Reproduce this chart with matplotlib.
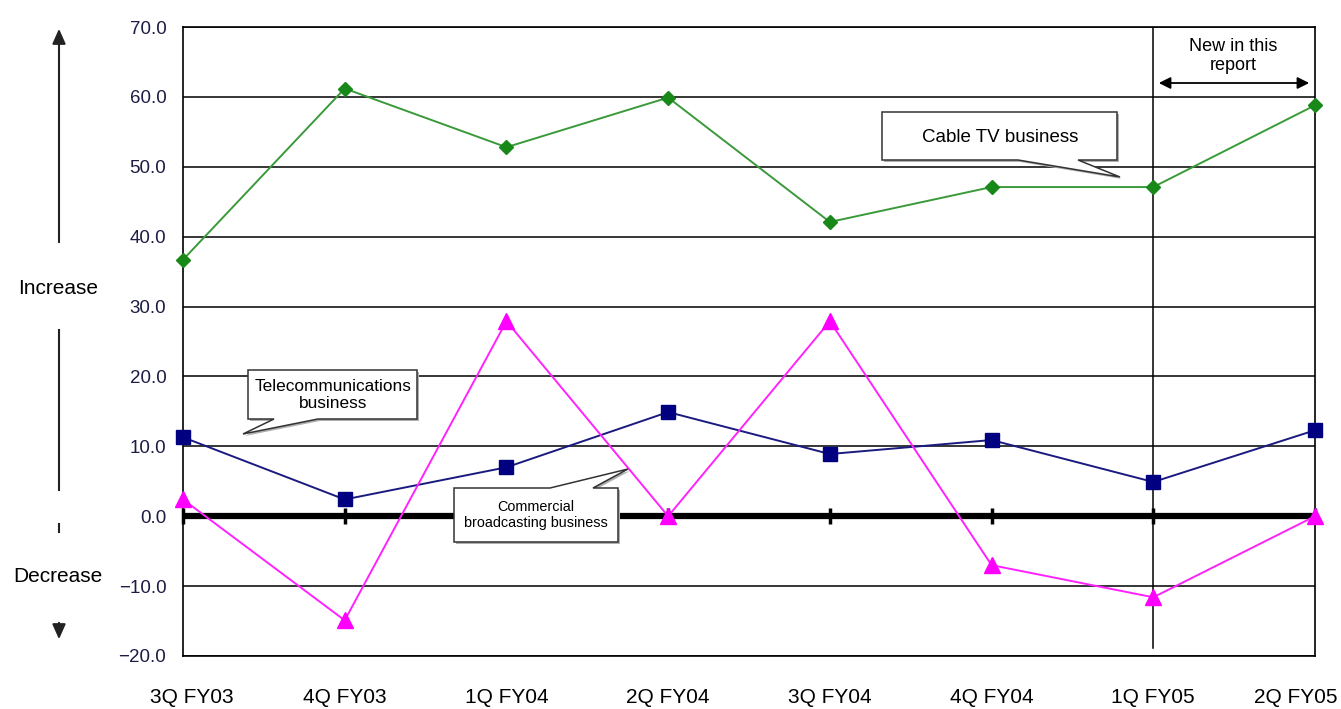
import numpy as np
import matplotlib.pyplot as plt
from matplotlib.patches import Polygon, FancyArrowPatch
from matplotlib.transforms import ScaledTranslation

plt.rcParams['font.family'] = ['Liberation Sans', 'DejaVu Sans']

# data
quarters = ["3Q FY03", "4Q FY03", "1Q FY04", "2Q FY04", "3Q FY04", "4Q FY04", "1Q FY05", "2Q FY05"]
cable_tv = [36.7, 61.2, 52.8, 59.9, 42.1, 47.1, 47.1, 58.8]
telecom = [11.3, 2.4, 7.0, 14.9, 8.9, 10.9, 4.9, 12.3]
broadcasting = [2.4, -14.9, 27.9, 0.0, 27.9, -7.0, -11.6, 0.0]
y_ticks = [-20, -10, 0, 10, 20, 30, 40, 50, 60, 70]

W, H = 1341, 709
fig = plt.figure(figsize=(W / 100, H / 100), dpi=100)
ax = fig.add_axes([183 / W, 1 - 656 / H, (1315 - 183) / W, (656 - 27) / H])

x = np.arange(len(quarters))

ax.set_xlim(0, len(quarters) - 1)
ax.set_ylim(-20, 70)
ax.set_yticks(y_ticks)
ax.set_yticklabels(["%.1f" % v if v >= 0 else "\u2212%.1f" % abs(v) for v in y_ticks],
                   color="#1c1c44", fontsize=13.5)
ax.set_xticks(x)
ax.set_xticklabels(quarters, fontsize=15)
ax.tick_params(axis="y", length=0, pad=12)
ax.tick_params(axis="x", length=0, pad=23)
# first and last labels nudged inward like the original
labels = ax.get_xticklabels()
labels[0].set_transform(labels[0].get_transform() + ScaledTranslation(0.09, 0, fig.dpi_scale_trans))
labels[-1].set_horizontalalignment("right")
labels[-1].set_transform(labels[-1].get_transform() + ScaledTranslation(0.23, 0, fig.dpi_scale_trans))

ax.grid(axis="y", color="black", lw=1.1)
ax.set_axisbelow(True)
for s in ax.spines.values():
    s.set_linewidth(1.2)

# thick zero line with category ticks
ax.axhline(0, color="black", lw=4.5, zorder=2)
ax.plot(x, np.zeros(len(x)), ls="none", marker="|", ms=12, mew=2.5, color="black", zorder=2, clip_on=False)

# separator for new quarter
ax.axvline(6, ymin=0.013, ymax=1, color="black", lw=1.1, zorder=2)

ax.plot(x, cable_tv, color="#3a9a3a", lw=1.4, marker="D", ms=7.5, mfc="#188818", mec="#188818",
        zorder=4, clip_on=False)
ax.plot(x, telecom, color="#1a1a80", lw=1.4, marker="s", ms=10, mfc="#000080", mec="#000080",
        zorder=4, clip_on=False)
ax.plot(x, broadcasting, color="#ff22ff", lw=1.4, marker="^", ms=11, mfc="#ff00ff", mec="#ff00ff",
        zorder=5, clip_on=False)


def fp(px, py):
    return (px / W, 1 - py / H)


def bubble(pts, text, cx, cy, size):
    shadow = Polygon([fp(px + 2, py + 2) for px, py in pts], closed=True, transform=fig.transFigure,
                     facecolor="#b0b0b0", edgecolor="none", zorder=6)
    body = Polygon([fp(px, py) for px, py in pts], closed=True, transform=fig.transFigure,
                   facecolor="white", edgecolor="#333333", lw=1.1, zorder=7)
    fig.add_artist(shadow)
    fig.add_artist(body)
    fig.text(*fp(cx, cy), text, ha="center", va="center", fontsize=size, zorder=8, linespacing=1.15)


bubble([(882, 112), (1117, 112), (1117, 160), (1078, 160), (1120, 177), (1018, 160), (882, 160)],
       "Cable TV business", 1000, 138, 13.5)
bubble([(248, 370), (417, 370), (417, 419), (318, 419), (243, 434), (274, 419), (248, 419)],
       "Telecommunications\nbusiness", 333, 395, 12.4)
bubble([(454, 488), (550, 488), (628, 469), (593, 488), (618, 488), (618, 542), (454, 542)],
       "Commercial\nbroadcasting business", 536, 515, 10.4)

# "New in this report"
fig.text(*fp(1233, 56), "New in this\nreport", ha="center", va="center", fontsize=13, linespacing=1.15)
fig.add_artist(FancyArrowPatch(fp(1156, 83), fp(1312, 83), transform=fig.transFigure,
                               arrowstyle="<|-|>,head_length=7,head_width=3.5", color="black", lw=1.3))

# increase / decrease guide on the left
fig.add_artist(FancyArrowPatch(fp(59, 245), fp(59, 26), transform=fig.transFigure,
                               arrowstyle="-|>,head_length=9,head_width=4", color="#222222", lw=1.5))
fig.add_artist(plt.Line2D([59 / W, 59 / W], [1 - 330 / H, 1 - 490 / H], transform=fig.transFigure,
                          color="#222222", lw=1.5))
fig.add_artist(plt.Line2D([59 / W, 59 / W], [1 - 524 / H, 1 - 532 / H], transform=fig.transFigure,
                          color="#222222", lw=1.5))
fig.add_artist(FancyArrowPatch(fp(59, 620), fp(59, 642), transform=fig.transFigure,
                               arrowstyle="-|>,head_length=9,head_width=4", color="#222222", lw=1.5))
fig.text(*fp(58, 289), "Increase", ha="center", va="center", fontsize=15)
fig.text(*fp(58, 577), "Decrease", ha="center", va="center", fontsize=15)

fig.savefig("out.png", dpi=100)
